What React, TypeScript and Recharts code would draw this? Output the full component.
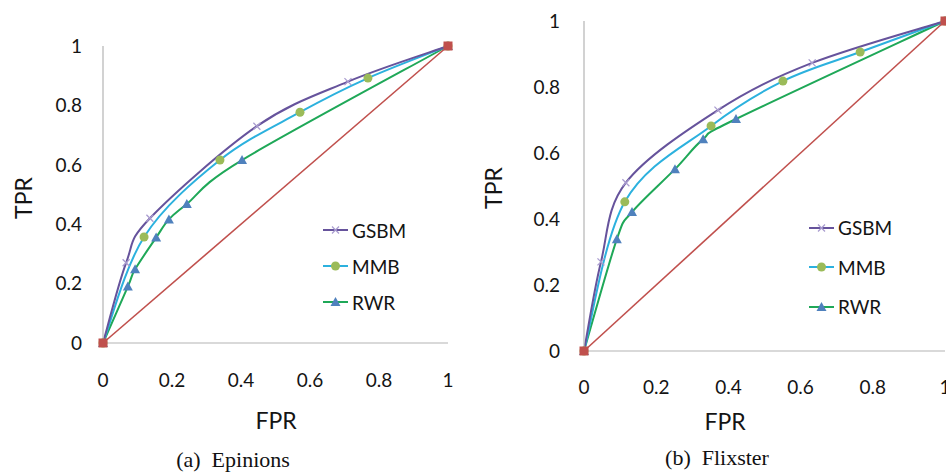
import React from "react";
import { LineChart, Line, XAxis, YAxis, Legend } from "recharts";

// Epinions (a)
const gsbmFprA = [0, 0.067, 0.136, 0.446, 0.71, 1];
const gsbmTprA = [0, 0.27, 0.42, 0.73, 0.88, 1];
const mmbFprA = [0, 0.119, 0.339, 0.571, 0.768, 1];
const mmbTprA = [0, 0.357, 0.616, 0.777, 0.892, 1];
const rwrFprA = [0, 0.072, 0.093, 0.154, 0.191, 0.243, 0.403, 1];
const rwrTprA = [0, 0.19, 0.248, 0.355, 0.416, 0.468, 0.616, 1];

// Flixster (b)
const gsbmFprB = [0, 0.047, 0.116, 0.371, 0.632, 1];
const gsbmTprB = [0, 0.27, 0.51, 0.73, 0.873, 1];
const mmbFprB = [0, 0.113, 0.352, 0.551, 0.765, 1];
const mmbTprB = [0, 0.452, 0.682, 0.818, 0.906, 1];
const rwrFprB = [0, 0.091, 0.133, 0.252, 0.33, 0.421, 1];
const rwrTprB = [0, 0.339, 0.421, 0.551, 0.642, 0.703, 1];

// random baseline
const diagFpr = [0, 1];
const diagTpr = [0, 1];

const ticks = [0, 0.2, 0.4, 0.6, 0.8, 1];
const seriesNames = ["GSBM", "MMB", "RWR"];

const toPoints = (xs: number[], ys: number[]) =>
  xs.map((fpr, i) => ({ fpr, tpr: ys[i] }));

const FONT = "Lato, 'Open Sans', sans-serif";
const TEXT = "#141414";
const AXIS = "#b4b4b4";

const COLORS = {
  GSBM: { line: "#66539c", mark: "#a99ccf" },
  MMB: { line: "#2cb1de", mark: "#9bbb59" },
  RWR: { line: "#1fa858", mark: "#4f81bd" },
  diag: { line: "#c0504d", mark: "#c0504d" },
};

// Excel-style smoothed line (uniform Catmull-Rom as cubic beziers)
const excelSmooth = (ctx: any) => {
  let pts: [number, number][] = [];
  return {
    areaStart() {},
    areaEnd() {},
    lineStart() {
      pts = [];
    },
    point(x: number, y: number) {
      pts.push([+x, +y]);
    },
    lineEnd() {
      if (!pts.length) return;
      ctx.moveTo(pts[0][0], pts[0][1]);
      for (let i = 0; i < pts.length - 1; i++) {
        const p0 = pts[Math.max(i - 1, 0)];
        const p1 = pts[i];
        const p2 = pts[i + 1];
        const p3 = pts[Math.min(i + 2, pts.length - 1)];
        ctx.bezierCurveTo(
          p1[0] + (p2[0] - p0[0]) / 6,
          p1[1] + (p2[1] - p0[1]) / 6,
          p2[0] - (p3[0] - p1[0]) / 6,
          p2[1] - (p3[1] - p1[1]) / 6,
          p2[0],
          p2[1]
        );
      }
    },
  };
};

const Marker = ({ kind, cx, cy }: { kind: string; cx: number; cy: number }) => {
  if (cx == null || cy == null) return null;
  if (kind === "GSBM") {
    const s = 3.5;
    return (
      <g stroke={COLORS.GSBM.mark} strokeWidth={1.3}>
        <line x1={cx - s} y1={cy - s} x2={cx + s} y2={cy + s} />
        <line x1={cx - s} y1={cy + s} x2={cx + s} y2={cy - s} />
      </g>
    );
  }
  if (kind === "MMB") {
    return <circle cx={cx} cy={cy} r={4.5} fill={COLORS.MMB.mark} />;
  }
  if (kind === "RWR") {
    const s = 5;
    return (
      <polygon
        points={`${cx},${cy - s} ${cx + s},${cy + s * 0.8} ${cx - s},${cy + s * 0.8}`}
        fill={COLORS.RWR.mark}
      />
    );
  }
  return <rect x={cx - 4.5} y={cy - 4.5} width={9} height={9} fill={COLORS.diag.mark} />;
};

const makeDot = (kind: string) => (p: any) =>
  <Marker key={`${kind}-${p.index}`} kind={kind} cx={p.cx} cy={p.cy} />;

const LegendBox = ({ rowH }: { rowH: number }) => (
  <div style={{ fontFamily: FONT, fontSize: 19, color: TEXT }}>
    {seriesNames.map((name) => {
      const c = (COLORS as any)[name];
      return (
        <div key={name} style={{ height: rowH, display: "flex", alignItems: "center" }}>
          <svg width={29} height={14} style={{ display: "block" }}>
            <line x1={0} y1={7} x2={25} y2={7} stroke={c.line} strokeWidth={2} />
            <Marker kind={name} cx={12.5} cy={7} />
          </svg>
          <span style={{ lineHeight: 1 }}>{name}</span>
        </div>
      );
    })}
  </div>
);

const Roc = ({
  width,
  margin,
  xTickMargin,
  yTickMargin,
  gsbm,
  mmb,
  rwr,
  legendPos,
  rowH,
}: any) => (
  <LineChart width={width} height={474} margin={margin}>
    <XAxis
      type="number"
      dataKey="fpr"
      domain={[0, 1]}
      ticks={ticks}
      height={30}
      tickLine={false}
      tickMargin={xTickMargin}
      axisLine={{ stroke: AXIS, strokeWidth: 1.2 }}
      tick={{ fill: TEXT, fontSize: 19, fontFamily: FONT }}
      allowDuplicatedCategory={false}
    />
    <YAxis
      type="number"
      dataKey="tpr"
      domain={[0, 1]}
      ticks={ticks}
      width={60}
      tickLine={false}
      tickMargin={yTickMargin}
      axisLine={{ stroke: AXIS, strokeWidth: 1.2 }}
      tick={{ fill: TEXT, fontSize: 19, fontFamily: FONT }}
    />
    <Legend
      layout="vertical"
      align="center"
      verticalAlign="middle"
      wrapperStyle={{ left: legendPos[0], top: legendPos[1], width: 130 }}
      content={() => <LegendBox rowH={rowH} />}
    />
    <Line
      data={rwr}
      dataKey="tpr"
      name="RWR"
      type={excelSmooth as any}
      stroke={COLORS.RWR.line}
      strokeWidth={2}
      dot={makeDot("RWR")}
      isAnimationActive={false}
    />
    <Line
      data={mmb}
      dataKey="tpr"
      name="MMB"
      type={excelSmooth as any}
      stroke={COLORS.MMB.line}
      strokeWidth={2}
      dot={makeDot("MMB")}
      isAnimationActive={false}
    />
    <Line
      data={gsbm}
      dataKey="tpr"
      name="GSBM"
      type={excelSmooth as any}
      stroke={COLORS.GSBM.line}
      strokeWidth={2}
      dot={makeDot("GSBM")}
      isAnimationActive={false}
    />
    <Line
      data={toPoints(diagFpr, diagTpr)}
      dataKey="tpr"
      name="diag"
      type="linear"
      stroke={COLORS.diag.line}
      strokeWidth={1.6}
      dot={makeDot("diag")}
      legendType="none"
      isAnimationActive={false}
    />
  </LineChart>
);

const Txt = ({ x, y, children, size = 23, serif = false, rotate = 0 }: any) => (
  <div
    style={{
      position: "absolute",
      left: x,
      top: y,
      transform: `translate(-50%, -50%) rotate(${rotate}deg)`,
      fontFamily: serif ? "'Liberation Serif', 'Times New Roman', serif" : FONT,
      fontSize: size,
      color: serif ? "#111" : TEXT,
      whiteSpace: "pre",
      lineHeight: 1,
    }}
  >
    {children}
  </div>
);

export default function App() {
  return (
    <div
      style={{
        position: "absolute",
        left: 0,
        top: 0,
        width: 946,
        height: 474,
        overflow: "hidden",
        background: "#fff",
      }}
    >
      <div style={{ position: "absolute", left: 0, top: 0 }}>
        <Roc
          width={473}
          margin={{ top: 46, right: 25, bottom: 101, left: 43 }}
          xTickMargin={25}
          yTickMargin={15}
          gsbm={toPoints(gsbmFprA, gsbmTprA)}
          mmb={toPoints(mmbFprA, mmbTprA)}
          rwr={toPoints(rwrFprA, rwrTprA)}
          legendPos={[323, 212]}
          rowH={36}
        />
      </div>
      <div style={{ position: "absolute", left: 473, top: 0 }}>
        <Roc
          width={500}
          margin={{ top: 21, right: 28, bottom: 93, left: 51 }}
          xTickMargin={24}
          yTickMargin={18}
          gsbm={toPoints(gsbmFprB, gsbmTprB)}
          mmb={toPoints(mmbFprB, mmbTprB)}
          rwr={toPoints(rwrFprB, rwrTprB)}
          legendPos={[336, 208]}
          rowH={39.5}
        />
      </div>

      <Txt x={276} y={420}>FPR</Txt>
      <Txt x={23} y={198} rotate={-90}>TPR</Txt>
      <Txt x={725} y={421}>FPR</Txt>
      <Txt x={493} y={188} rotate={-90}>TPR</Txt>

      <Txt x={233} y={460} serif size={22}>{"(a)  Epinions"}</Txt>
      <Txt x={717} y={458} serif size={22}>{"(b)  Flixster"}</Txt>
    </div>
  );
}
